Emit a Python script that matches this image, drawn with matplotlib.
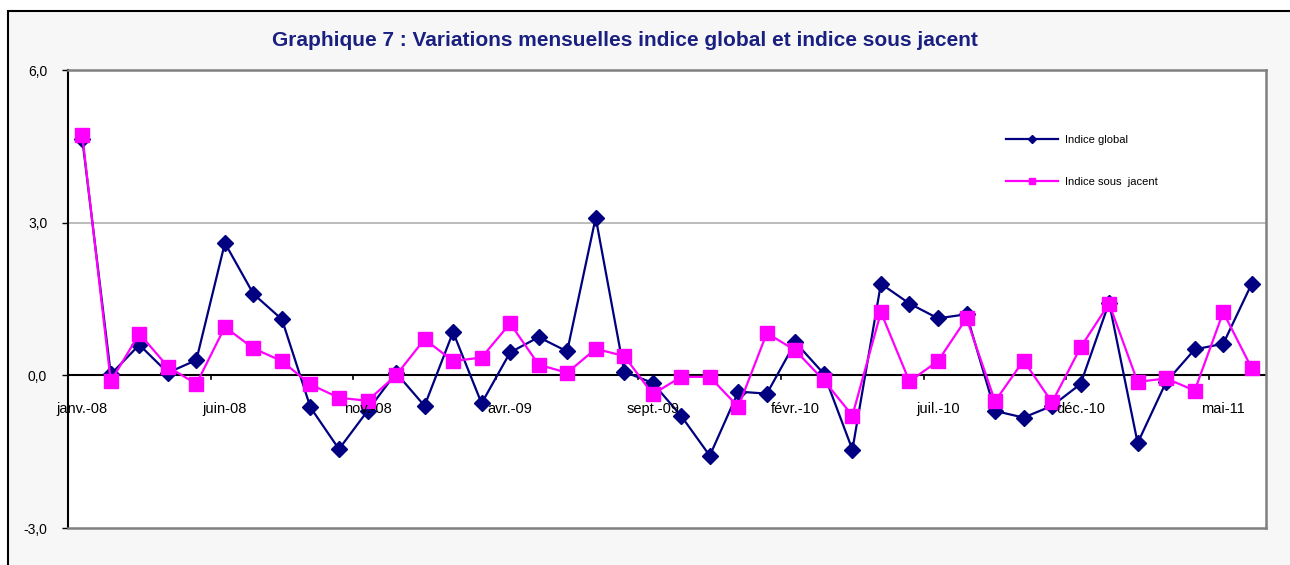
import matplotlib
matplotlib.use("Agg")
import matplotlib.pyplot as plt
from matplotlib.patches import Rectangle

plt.rcParams['font.family'] = ['Liberation Sans', 'DejaVu Sans']

months = ["janv.", "févr.", "mars", "avr.", "mai", "juin", "juil.", "août",
          "sept.", "oct.", "nov.", "déc."]
years = ["08", "09", "10", "11"]
categories = [f"{m}-{y}" for y in years for m in months][:42]

indice_global = [4.65, 0.02, 0.60, 0.05, 0.30, 2.60, 1.60, 1.10, -0.63, -1.45,
                 -0.70, 0.05, -0.60, 0.85, -0.55, 0.45, 0.75, 0.47, 3.10, 0.07,
                 -0.15, -0.80, -1.58, -0.32, -0.36, 0.65, 0.03, -1.46, 1.80, 1.41,
                 1.12, 1.20, -0.70, -0.83, -0.60, -0.17, 1.43, -1.33, -0.13, 0.51,
                 0.62, 1.80]
indice_sous_jacent = [4.72, -0.12, 0.82, 0.17, -0.17, 0.95, 0.53, 0.28, -0.18, -0.44,
                      -0.50, 0.00, 0.71, 0.28, 0.35, 1.02, 0.21, 0.05, 0.52, 0.38,
                      -0.37, -0.03, -0.03, -0.62, 0.83, 0.49, -0.10, -0.79, 1.24, -0.12,
                      0.28, 1.12, -0.51, 0.29, -0.53, 0.55, 1.41, -0.13, -0.06, -0.30,
                      1.24, 0.14]
y_ticks = [-3.0, 0.0, 3.0, 6.0]
y_tick_labels = ["-3,0", "0,0", "3,0", "6,0"]
title = "Graphique 7 : Variations mensuelles indice global et indice sous jacent"

W, H = 1290, 565
fig = plt.figure(figsize=(W / 100, H / 100), dpi=100)
fig.patch.set_facecolor("white")
# chart area frame with light pattern-like fill
fig.patches.append(Rectangle((8 / W, -0.01), 1.0, 1.01 - 11 / H, transform=fig.transFigure,
                             facecolor="#f7f7f7", edgecolor="black", linewidth=1.5,
                             zorder=-5))

ax = fig.add_axes([68 / W, 1 - 528 / H, (1266 - 68) / W, (528 - 70) / H])
ax.set_zorder(1)
ax.set_facecolor("white")
n = len(categories)
x = list(range(n))
ax.set_xlim(-0.5, n - 0.5)
ax.set_ylim(-3.0, 6.0)

for yv in [3.0, 6.0]:
    ax.axhline(yv, color="#b0b0b0", linewidth=1.2, zorder=1)
ax.axhline(0, color="black", linewidth=1.5, zorder=2)

ax.plot(x, indice_global, color="#000080", linewidth=1.6, marker="D",
        markersize=8, markerfacecolor="#000080", markeredgecolor="#000080",
        label="Indice global", zorder=3)
ax.plot(x, indice_sous_jacent, color="#ff00ff", linewidth=1.6, marker="s",
        markersize=10, markerfacecolor="#ff00ff", markeredgecolor="#ff00ff",
        label="Indice sous  jacent", zorder=4)

ax.set_yticks(y_ticks)
ax.set_yticklabels(y_tick_labels, fontsize=10)
ax.tick_params(axis="y", length=4, width=1, pad=11, color="black")
ax.set_xticks([])

# category labels every 5 months, below the zero line
for i in range(0, n, 5):
    ax.annotate(categories[i], (i, 0), xytext=(0, -24), textcoords="offset points",
                ha="center", va="center", fontsize=10.5, color="black", zorder=5)
# tick marks between categories on zero line
for i in range(0, n + 1, 5):
    ax.plot([i - 0.5, i - 0.5], [0, -0.08], color="black", linewidth=1.2,
            zorder=2, clip_on=False)

for side in ["top", "right", "bottom"]:
    ax.spines[side].set_color("#808080")
    ax.spines[side].set_linewidth(1.8)
ax.spines["left"].set_color("black")
ax.spines["left"].set_linewidth(1.5)

leg = ax.legend(loc="upper left", bbox_to_anchor=(0.775, 0.88), frameon=False,
                fontsize=8, handlelength=4.6, labelspacing=2.9, markerscale=0.45,
                handletextpad=0.7)

fig.text(625 / W, 1 - 41 / H, title, ha="center", va="center", fontsize=15,
         fontweight="bold", color="#1a2080")

fig.savefig("out.png", dpi=100)
